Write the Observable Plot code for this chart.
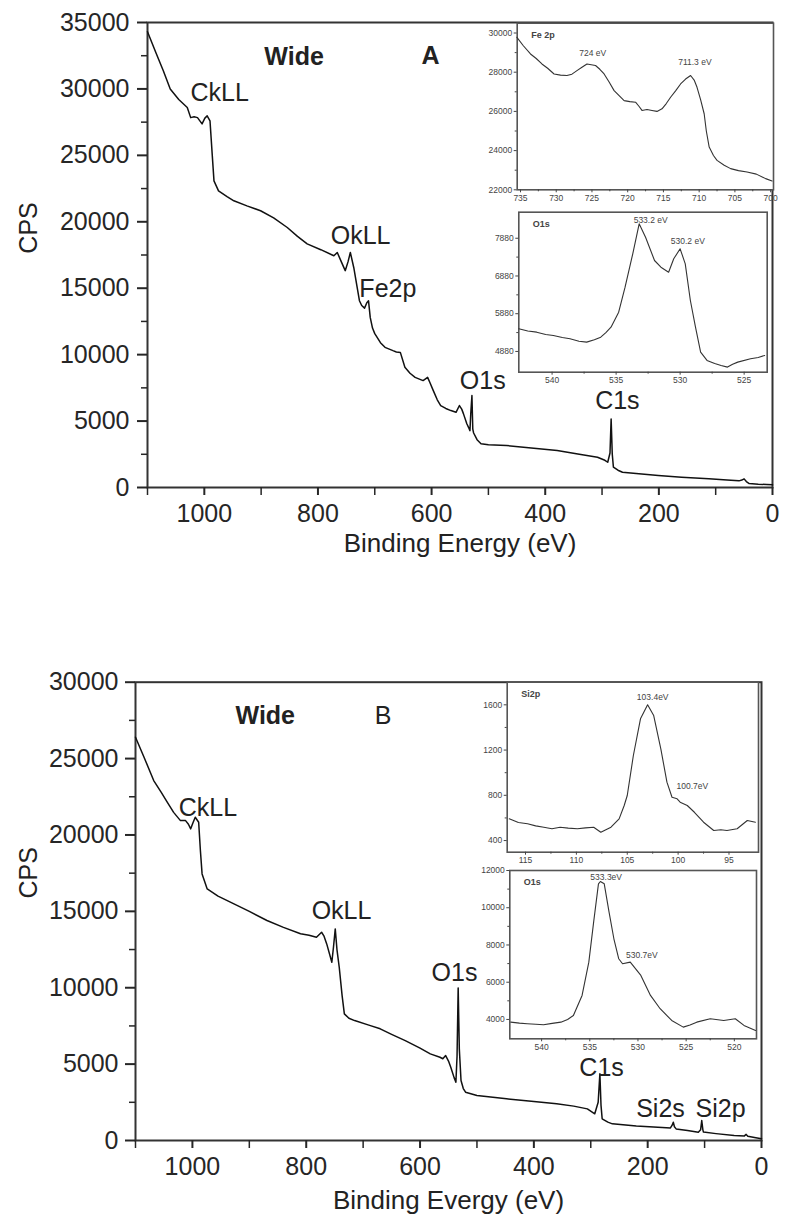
<!DOCTYPE html>
<html><head><meta charset="utf-8">
<script src="https://cdn.jsdelivr.net/npm/d3@7"></script>
<script src="https://cdn.jsdelivr.net/npm/@observablehq/plot@0.6"></script>
<style>
body{margin:0;background:#fff;}
#wrap{position:relative;width:793px;height:1222px;overflow:hidden;background:#fff;}
</style></head><body><div id="wrap"></div>
<script>
// ---------- Panel A survey ----------
const aEnergy = [1100,1085,1072,1060,1045,1030,1024,1018,1012,1004,999,995,990,986,983,975,960,948,925,901,878,854,836,819,795,772,766,759,752,747,743,737,731,727,723,718,714,711,708,704,700,690,682,668,662,655,647,638,629,615,607,603,597,590,584,575,566,557,551,547,544,538,535,532.5,531,529,527.5,526,520,513,500,468,420,379,340,308,295,290,286,284,282,280,272,264,240,201,160,112,80,59,54,50,46,41,25,10,0];
const aCps = [34300,32700,31350,30000,29200,28600,27840,27900,27840,27370,27800,27970,27600,25000,23080,22330,21900,21580,21200,20830,20300,19570,18900,18340,17900,17440,17690,17000,16320,17000,17690,16560,15060,14060,13700,13500,13900,14050,12800,12000,11580,10900,10550,10300,10200,10170,9050,8600,8290,8045,8290,7900,7290,6600,6170,5950,5790,5660,6170,5900,5560,4800,4530,4280,5600,6920,4400,4100,3600,3300,3220,3160,2960,2780,2500,2280,2050,1900,2600,5160,2500,1530,1300,1150,1050,900,780,650,570,500,560,650,450,300,250,220,200];
const aYTicks = [0,5000,10000,15000,20000,25000,30000,35000];
const aYMinor = [2500,7500,12500,17500,22500,27500,32500];
const xTicksMain = [1000,800,600,400,200,0];
const xMinorMain = [1100,900,700,500,300,100];
const aLabelText = ["CkLL","OkLL","Fe2p","O1s","C1s"];
const aLabelE = [973,725,677,510,273];
const aLabelC = [29700,18950,14925,8045,6540];
const aTitleText = ["Wide","A"];
const aTitleE = [842,602];
const aTitleC = [32400,32480];

// Inset A1: Fe 2p
const feE = [735.5,734.6,733.6,732.8,732.0,731.2,730.3,729.4,728.5,727.8,727.1,726.4,725.7,725.1,724.5,723.9,723.3,722.6,721.9,721.2,720.5,719.7,718.9,718.4,718.0,717.3,716.6,715.9,715.2,714.6,714.0,713.3,712.6,711.9,711.2,710.7,710.3,709.8,709.3,709.0,708.6,708.0,707.5,706.5,705.6,704.5,703.3,702.0,700.7,699.8];
const feC = [29780,29350,28930,28700,28420,28200,27910,27850,27830,27900,28080,28250,28420,28380,28340,28150,27910,27500,27060,26800,26550,26500,26470,26250,26050,26100,26050,26000,26130,26400,26720,27050,27400,27650,27830,27600,27230,26600,25880,25000,24180,23750,23500,23250,23080,22980,22910,22800,22570,22450];
const feXTicks = [735,730,725,720,715,710,705,700];
const feYTicks = [22000,24000,26000,28000,30000];
const feLabelText = ["724 eV","711.3 eV"];
const feLabelE = [724.9,710.6];
const feLabelC = [28950,28490];

// Inset A2: O1s
const oaE = [542.6,541.9,541.2,540.5,539.9,539.2,538.6,537.9,537.3,536.7,536.2,535.8,535.4,534.8,534.3,533.7,533.2,532.7,532.0,531.5,530.9,530.5,530.0,529.6,529.2,528.8,528.4,527.9,527.3,526.8,526.3,525.9,525.5,524.5,523.9,523.4];
const oaC = [5481,5420,5391,5330,5304,5250,5216,5150,5127,5190,5259,5380,5524,5921,6583,7467,8261,7907,7290,7112,6980,7335,7600,7202,6230,5524,4862,4642,4560,4510,4465,4540,4597,4687,4720,4774];
const oaXTicks = [540,535,530,525];
const oaYTicks = [4880,5880,6880,7880];
const oaLabelText = ["533.2 eV","530.2 eV"];
const oaLabelE = [532.3,529.4];
const oaLabelC = [8362,7806];

// ---------- Panel B survey ----------
const bEnergy = [1100,1085,1068,1055,1044,1033,1021,1012,1007,1003,999,995,989,986,983,974,955,927,900,869,840,810,795,782,773,769,764,755,752,749,746,742,737,733,725,715,690,670,650,626,600,582,565,560,555,550,546,540,537,535,533,531,528,524,520,500,448,400,360,330,306,293,287,284,282,280,270,262,220,182,160,157,155,153,150,130,111,107,105,103,102,80,48,30,27,24,10,0];
const bCps = [26400,25090,23560,22800,22140,21480,20940,20940,20700,20400,20800,21160,20830,19000,17450,16470,16000,15490,15000,14400,13950,13530,13430,13300,13630,13400,12870,11670,12700,13850,12500,11340,9500,8290,8000,7850,7550,7310,6950,6540,6050,5670,5450,5350,5560,5200,4800,4100,3820,5500,9990,6000,3930,3400,3160,2950,2730,2550,2400,2250,2070,1750,2500,4370,2300,1420,1200,1090,950,870,820,1000,1200,900,760,650,545,700,1310,700,550,450,330,300,400,280,180,110];
const bYTicks = [0,5000,10000,15000,20000,25000,30000];
const bYMinor = [2500,7500,12500,17500,22500,27500];
const bLabelText = ["CkLL","OkLL","O1s","C1s","Si2s","Si2p"];
const bLabelE = [972.6,738,539.5,281,177.5,72];
const bLabelC = [21790,15050,10995,4750,2094,2094];
const bTitleText = ["Wide","B"];
const bTitleE = [872,665];
const bTitleC = [27810,27810];

// Inset B1: Si2p
const siE = [116.6,115.7,114.8,114.0,113.2,112.4,111.6,110.8,109.9,109.1,108.3,107.6,106.6,105.8,105.3,105.0,104.4,103.7,103.0,102.4,101.7,101.1,100.6,100.1,99.8,99.1,98.4,97.5,96.5,95.8,95.2,94.2,93.2,92.4];
const siC = [592,560,548,530,518,505,518,510,504,512,518,474,518,592,710,798,1152,1476,1600,1505,1211,916,783,769,739,710,650,562,489,495,489,504,577,562];
const siXTicks = [115,110,105,100,95];
const siYTicks = [400,800,1200,1600];
const siLabelText = ["103.4eV","100.7eV"];
const siLabelE = [102.5,98.6];
const siLabelC = [1665,878];

// Inset B2: O1s
const obE = [543.2,542.3,541.5,540.6,539.8,538.9,538.0,537.3,536.7,535.8,535.1,534.6,534.1,533.9,533.5,533.0,532.5,532.0,531.6,530.8,529.7,528.7,527.7,526.5,525.3,524.6,523.9,522.5,521.1,519.9,519.0,517.8];
const obC = [3855,3800,3770,3740,3715,3790,3855,4000,4215,5290,7077,9224,11285,11410,11285,9762,8333,7260,6990,7077,6363,5290,4575,3946,3588,3700,3855,4037,3946,4037,3678,3410];
const obXTicks = [540,535,530,525,520];
const obYTicks = [4000,6000,8000,10000,12000];
const obLabelText = ["533.3eV","530.7eV"];
const obLabelE = [533.3,529.6];
const obLabelC = [11624,7436];

const FONT = "'Liberation Sans', Arial, Helvetica, sans-serif";
const wrap = document.getElementById("wrap");
const fmt = d => String(d);
const blank = () => "";
const halves = t => t.slice(1).map((v,i)=>(v+t[i])/2);

function place(svg, left, top){
  svg.style.position = "absolute";
  svg.style.left = left + "px";
  svg.style.top = top + "px";
  wrap.appendChild(svg);
}

function mainPanel(o){
  return Plot.plot({
    width: 793, height: o.height,
    marginLeft: o.ml, marginRight: o.mr, marginTop: o.mt, marginBottom: o.mb,
    x: {domain: [1100, 0]},
    y: {domain: o.ydomain},
    style: {fontFamily: FONT, fontSize: "25px", color: "#262626", background: "transparent", overflow: "visible"},
    marks: [
      Plot.frame({stroke: "#333", strokeWidth: 2}),
      Plot.axisY({ticks: o.yTicks, tickSize: 10, tickPadding: o.ypad, tickFormat: fmt, fontSize: 25, strokeWidth: 2, label: null}),
      Plot.axisY({ticks: o.yMinor, tickSize: 6, tickFormat: blank, strokeWidth: 1.5, label: null}),
      Plot.axisX({ticks: xTicksMain, tickSize: 8, tickPadding: 9, tickFormat: fmt, fontSize: 25, strokeWidth: 2, label: null}),
      Plot.axisX({ticks: xMinorMain, tickSize: 8, tickFormat: blank, strokeWidth: 1.5, label: null}),
      Plot.line(o.c, {x: o.e, y: o.c, stroke: "#111", strokeWidth: 1.5}),
      Plot.text(o.labText, {x: o.labE, y: o.labC, text: d => d, fontSize: 25, fill: "#222"}),
      Plot.text(o.titText.slice(0,1), {x: o.titE.slice(0,1), y: o.titC.slice(0,1), text: d => d, fontSize: 25, fontWeight: "bold", fill: "#222"}),
      Plot.text(o.titText.slice(1), {x: o.titE.slice(1), y: o.titC.slice(1), text: d => d, fontSize: 25, fontWeight: o.secondBold ? "bold" : "normal", fill: "#222"}),
      Plot.text(["CPS"], {frameAnchor: "left", y: [o.cpsY], dx: o.cpsDx, rotate: -90, text: d => d, fontSize: 25, fill: "#222"}),
      Plot.text([o.xTitle], {frameAnchor: "bottom", dy: o.xTitleDy, text: d => d, fontSize: 26, fill: "#222"})
    ]
  });
}

function inset(o){
  return Plot.plot({
    width: o.width, height: o.height,
    marginLeft: o.ml, marginRight: o.mr, marginTop: o.mt, marginBottom: o.mb,
    x: {domain: o.xdomain},
    y: {domain: o.ydomain},
    style: {fontFamily: FONT, fontSize: "9px", color: "#444", background: "transparent", overflow: "visible"},
    marks: [
      Plot.frame({fill: "white", stroke: "#555", strokeWidth: 1.6}),
      Plot.axisY({ticks: o.yTicks, tickSize: 3, tickPadding: 2, tickFormat: fmt, fontSize: 8.5, label: null}),
      Plot.axisY({ticks: halves(o.yTicks), tickSize: 2, tickFormat: blank, label: null}),
      Plot.axisX({ticks: o.xTicks, tickSize: 3, tickPadding: 2, tickFormat: fmt, fontSize: 8.5, label: null}),
      Plot.axisX({ticks: halves(o.xTicks), tickSize: 2, tickFormat: blank, label: null}),
      Plot.line(o.c, {x: o.e, y: o.c, stroke: "#333", strokeWidth: 1.1}),
      Plot.text([o.name], {frameAnchor: "top-left", dx: 14, dy: 8, text: d => d, fontSize: 9, fontWeight: "bold", fill: "#444"}),
      Plot.text(o.labText, {x: o.labE, y: o.labC, text: d => d, fontSize: 8.5, fill: "#444"})
    ]
  });
}

// Panel A
place(mainPanel({height: 570, ml: 147, mr: 21, mt: 22, mb: 83, ydomain: [0, 35000],
  yTicks: aYTicks, yMinor: aYMinor, ypad: 8, e: aEnergy, c: aCps,
  labText: aLabelText, labE: aLabelE, labC: aLabelC,
  titText: aTitleText, titE: aTitleE, titC: aTitleC, secondBold: true,
  cpsY: 17600, cpsDx: -119, xTitle: "Binding Energy (eV)", xTitleDy: 64}), 0, 0);

place(inset({width: 330, height: 200, ml: 56.7, mr: 17, mt: 12.7, mb: 20.7,
  xdomain: [735.46, 699.6], ydomain: [22000, 30500], xTicks: feXTicks, yTicks: feYTicks,
  e: feE, c: feC, name: "Fe 2p", labText: feLabelText, labE: feLabelE, labC: feLabelC}), 460, 10);

place(inset({width: 330, height: 200, ml: 58.3, mr: 23.3, mt: 11.7, mb: 28.3,
  xdomain: [542.6, 523.2], ydomain: [4330, 8570], xTicks: oaXTicks, yTicks: oaYTicks,
  e: oaE, c: oaC, name: "O1s", labText: oaLabelText, labE: oaLabelE, labC: oaLabelC}), 460, 200);

// Panel B
place(mainPanel({height: 582, ml: 135, mr: 32, mt: 41.7, mb: 82, ydomain: [0, 30000],
  yTicks: bYTicks, yMinor: bYMinor, ypad: 7, e: bEnergy, c: bCps,
  labText: bLabelText, labE: bLabelE, labC: bLabelC,
  titText: bTitleText, titE: bTitleE, titC: bTitleC, secondBold: false,
  cpsY: 15840, cpsDx: -107, xTitle: "Binding Evergy (eV)", xTitleDy: 68}), 0, 640);

place(inset({width: 340, height: 200, ml: 56.7, mr: 32, mt: 11.7, mb: 18.3,
  xdomain: [116.8, 92.1], ydomain: [297, 1800], xTicks: siXTicks, yTicks: siYTicks,
  e: siE, c: siC, name: "Si2p", labText: siLabelText, labE: siLabelE, labC: siLabelC}), 450, 670);

place(inset({width: 340, height: 200, ml: 59.3, mr: 34, mt: 10, mb: 21.7,
  xdomain: [543.3, 517.7], ydomain: [2960, 12000], xTicks: obXTicks, yTicks: obYTicks,
  e: obE, c: obC, name: "O1s", labText: obLabelText, labE: obLabelE, labC: obLabelC}), 450, 860);
</script>
</body></html>
